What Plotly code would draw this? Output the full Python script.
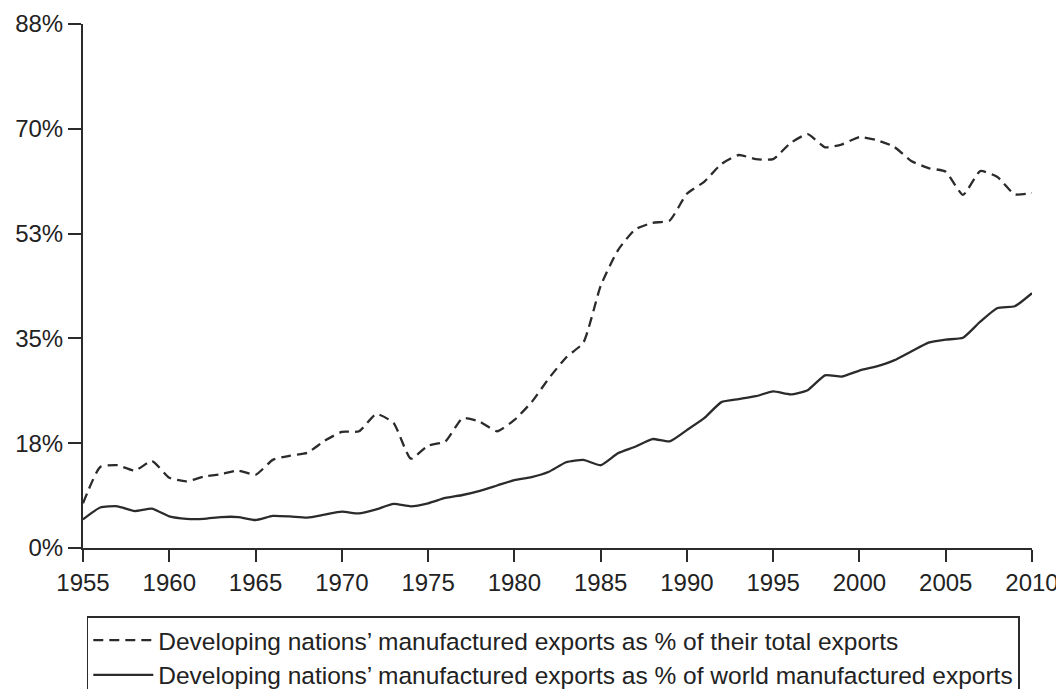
import plotly.graph_objects as go

years = list(range(1955, 2011))

share_of_total_exports = [
    7.5, 13.6, 13.9, 13.0, 14.6, 11.8, 11.2, 12.0, 12.4, 13.0,
    12.3, 14.8, 15.5, 16.0, 18.0, 19.5, 19.6, 22.5, 21.0, 15.0,
    17.2, 17.9, 21.8, 21.2, 19.6, 21.5, 24.5, 28.5, 32.0, 34.5,
    44.0, 50.0, 53.5, 54.6, 55.0, 59.5, 61.5, 64.5, 66.0, 65.3,
    65.3, 68.0, 69.5, 67.3, 67.8, 69.0, 68.5, 67.4, 65.0, 63.8,
    63.2, 59.3, 63.3, 62.3, 59.4, 59.6,
]

share_of_world_manufactured = [
    4.8, 6.8, 7.0, 6.2, 6.6, 5.3, 4.9, 4.9, 5.2, 5.2,
    4.7, 5.4, 5.3, 5.1, 5.6, 6.1, 5.8, 6.5, 7.4, 7.0,
    7.5, 8.4, 8.9, 9.6, 10.5, 11.4, 11.9, 12.8, 14.4, 14.8,
    13.9, 15.9, 17.0, 18.3, 17.9, 19.8, 21.8, 24.5, 25.0, 25.5,
    26.3, 25.8, 26.5, 29.0, 28.8, 29.8, 30.5, 31.5, 33.0, 34.5,
    35.0, 35.3, 38.0, 40.3, 40.6, 42.8,
]

y_tick_vals = [0, 17.6, 35.2, 52.8, 70.4, 88]
y_tick_text = ["0%", "18%", "35%", "53%", "70%", "88%"]
x_tick_vals = list(range(1955, 2011, 5))

label_total = "Developing nations\u2019 manufactured exports as % of their total exports"
label_world = "Developing nations\u2019 manufactured exports as % of world manufactured exports"

ink = "#2b2b2b"

fig = go.Figure()
fig.add_trace(go.Scatter(
    x=years, y=share_of_total_exports, mode="lines", name=label_total,
    line=dict(color=ink, width=2.3, dash="10px,6px", shape="spline", smoothing=0.5),
))
fig.add_trace(go.Scatter(
    x=years, y=share_of_world_manufactured, mode="lines", name=label_world,
    line=dict(color=ink, width=2.3, shape="spline", smoothing=0.5),
))

font_family = "Liberation Sans, Arial, sans-serif"

fig.update_layout(
    width=1064, height=689,
    margin=dict(l=75, r=40, t=16, b=149, autoexpand=False),
    paper_bgcolor="white", plot_bgcolor="white",
    font=dict(family=font_family, size=24, color="#222"),
    showlegend=True,
    legend=dict(
        x=0.004, y=-0.13, xanchor="left", yanchor="top",
        bordercolor=ink, borderwidth=1.5, bgcolor="white",
        font=dict(family=font_family, size=24.5, color="#222"),
        itemwidth=60, tracegroupgap=0,
        entrywidthmode="pixels", entrywidth=850,
    ),
    xaxis=dict(
        range=[1955, 2010], tickmode="array", tickvals=x_tick_vals,
        showgrid=False, zeroline=False, showline=True, linecolor=ink, linewidth=2,
        ticks="outside", ticklen=12, tickwidth=2, tickcolor=ink,
        tickfont=dict(size=24, color="#222"),
    ),
    yaxis=dict(
        range=[0, 88], tickmode="array", tickvals=y_tick_vals, ticktext=y_tick_text,
        showgrid=False, zeroline=False, showline=True, linecolor=ink, linewidth=2,
        ticks="outside", ticklen=13, tickwidth=2, tickcolor=ink,
        tickfont=dict(size=24, color="#222"),
    ),
)

fig.write_html("out.html")
